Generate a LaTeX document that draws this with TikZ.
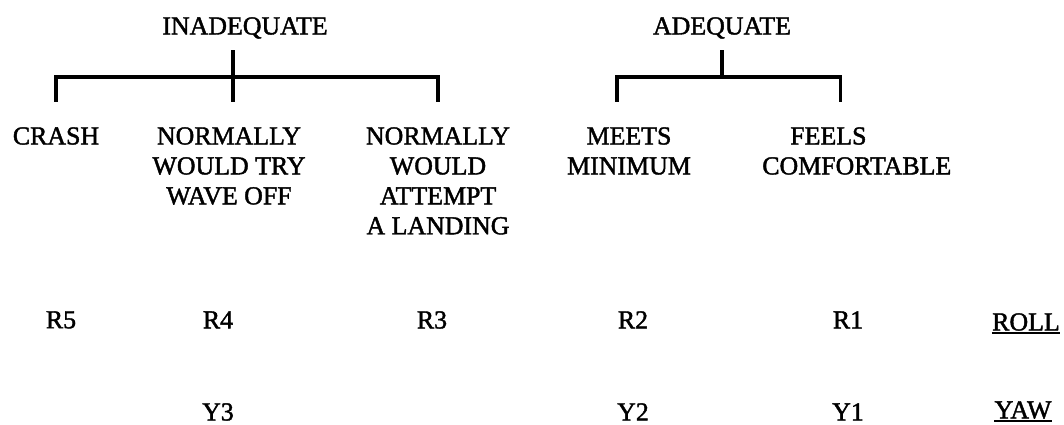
\documentclass[tikz,border=0pt]{standalone}
\usepackage{fontspec}
\newfontfamily\scanfont{Liberation Serif}[FakeBold=1.6]
\usepackage{tikz}
\usetikzlibrary{positioning}
\tikzset{
  % etichette di testo
  lbl/.style={inner sep=0, anchor=north, align=center,
    font=\scanfont\fontsize{18.4}{21.3}\selectfont},
  % parentesi dell'albero
  bracket/.style={line width=2.4pt},
  uline/.style={line width=1.4pt}
}

\begin{document}
\begin{tikzpicture}[x=0.025cm, y=-0.025cm]
    \useasboundingbox (0,0) rectangle (1064,424);
    % intestazioni
    \node[lbl] (inad) at (245,17) {INADEQUATE};
    \node[lbl] (adeq) at (722,17) {ADEQUATE};
    % categorie
    \node[lbl] (crash) at (56,127) {CRASH};
    \node[lbl] (wave) at (229,127) {NORMALLY\\WOULD TRY\\WAVE OFF};
    \node[lbl] (land) at (438,127) {NORMALLY\\WOULD\\ATTEMPT\\A LANDING};
    \node[lbl] (meets) at (629,127) {MEETS\\MINIMUM};
    \node[lbl, anchor=north west, align=left] (feels) at (762,127) {\hspace*{0.7cm}FEELS\\COMFORTABLE};
    % valori di rollio
    \node[lbl] (r5) at (61,311) {R5};
    \node[lbl] (r4) at (218,311) {R4};
    \node[lbl] (r3) at (432,311) {R3};
    \node[lbl] (r2) at (633,311) {R2};
    \node[lbl] (r1) at (848,311) {R1};
    \node[lbl] (roll) at (1026,313) {ROLL};
    % valori di imbardata
    \node[lbl] (y3) at (218,403) {Y3};
    \node[lbl] (y2) at (633,403) {Y2};
    \node[lbl] (y1) at (848,403) {Y1};
    \node[lbl] (yaw) at (1023,401) {YAW};
    % parentesi
    \coordinate (lj) at (233,77);
    \coordinate (rj) at (722,77);
    \draw[bracket, shorten <=0.4cm, shorten >=0.625cm] (inad.base -| lj) -- (wave.north -| lj);
    \draw[bracket, shorten >=0.625cm] (lj) -| (crash.north);
    \draw[bracket, shorten >=0.625cm] (lj) -| (land.north);
    \draw[bracket, shorten <=0.4cm] (adeq.base -| rj) -- (rj);
    \draw[bracket, shorten >=0.625cm] (rj) -| ([xshift=-0.3cm]meets.north);
    \draw[bracket, shorten >=0.625cm] (rj) -| ([xshift=-0.4cm]feels.north);
    % sottolineature
    \draw[uline] ([yshift=-0.07cm]roll.base west) -- ([yshift=-0.07cm]roll.base east);
    \draw[uline] ([yshift=-0.07cm]yaw.base west) -- ([yshift=-0.07cm]yaw.base east);
\end{tikzpicture}
\end{document}
